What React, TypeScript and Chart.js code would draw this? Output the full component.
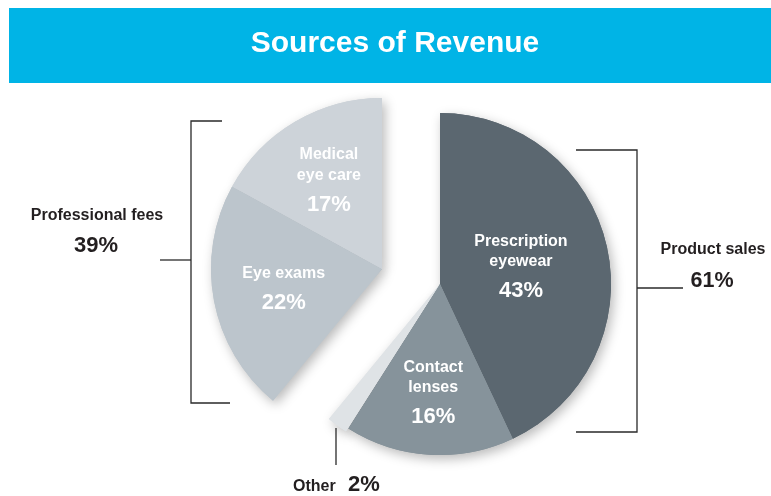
import { useEffect, useRef } from "react";
import { Chart, registerables } from "chart.js";

Chart.register(...registerables);

// ---------- data ----------
const TITLE = "Sources of Revenue";
const categories = ["Prescription eyewear", "Contact lenses", "Other", "Eye exams", "Medical eye care"];
const labelLines = [["Prescription", "eyewear"], ["Contact", "lenses"], [], ["Eye exams"], ["Medical", "eye care"]];
const shares = [43, 16, 2, 22, 17];
const groups = ["product", "product", "product", "professional", "professional"];
const groupNames: Record<string, string> = { product: "Product sales", professional: "Professional fees" };
const otherIndex = 2;

// ---------- style ----------
const W = 771;
const H = 496;
const FONT = "'Liberation Sans', Arial, sans-serif";
const DARK = "#231f20";
const COLORS = ["#5b6770", "#86939b", "#dfe3e6", "#bcc5cc", "#cdd3d9"];
const OFFSETS = [0, 0, 8, 0, 0];
const LABEL_R = [0.485, 0.63, 0, 0.585, 0.61];
const GROUP_SHIFT: Record<string, { dx: number; dy: number }> = {
  product: { dx: 0, dy: 0 },
  professional: { dx: -58, dy: -15 },
};
const BAR = { x: 9, y: 8, w: W - 9, h: 75, color: "#00b4e6" };

const groupTotal = (g: string) => shares.reduce((s, v, i) => (groups[i] === g ? s + v : s), 0);

function text(ctx: CanvasRenderingContext2D, t: string, x: number, y: number, size: number, color: string, align: CanvasTextAlign = "center") {
  ctx.save();
  ctx.font = `bold ${size}px ${FONT}`;
  ctx.fillStyle = color;
  ctx.textAlign = align;
  ctx.textBaseline = "alphabetic";
  ctx.fillText(t, x, y);
  ctx.restore();
}

function line(ctx: CanvasRenderingContext2D, pts: number[][]) {
  ctx.save();
  ctx.strokeStyle = "#2a2a2a";
  ctx.lineWidth = 1.3;
  ctx.beginPath();
  pts.forEach(([x, y], i) => (i === 0 ? ctx.moveTo(x, y) : ctx.lineTo(x, y)));
  ctx.stroke();
  ctx.restore();
}

const piePlugin = {
  id: "groupedPie",
  beforeDraw(chart: any) {
    const ctx = chart.ctx as CanvasRenderingContext2D;
    ctx.save();
    ctx.fillStyle = BAR.color;
    ctx.fillRect(BAR.x, BAR.y, BAR.w, BAR.h);
    ctx.restore();
    text(ctx, TITLE, 395, 52, 30, "#ffffff");
  },
  beforeDatasetDraw(chart: any, args: any) {
    const ctx = chart.ctx as CanvasRenderingContext2D;
    const arcs = args.meta.data;
    for (let pass = 0; pass < 2; pass++) {
      arcs.forEach((arc: any, i: number) => {
        const s = GROUP_SHIFT[groups[i]];
        ctx.save();
        ctx.translate(s.dx, s.dy);
        if (pass === 0) {
          ctx.shadowColor = "rgba(0,0,0,0.28)";
          ctx.shadowBlur = 12;
          ctx.shadowOffsetX = 3;
          ctx.shadowOffsetY = 4;
        }
        arc.draw(ctx);
        ctx.restore();
      });
    }
    return false;
  },
  afterDatasetsDraw(chart: any) {
    const ctx = chart.ctx as CanvasRenderingContext2D;
    const arcs = chart.getDatasetMeta(0).data;
    let cx = 0, cy = 0, R = 0;
    arcs.forEach((arc: any, i: number) => {
      const p = arc.getProps(["x", "y", "startAngle", "endAngle", "outerRadius"], true);
      cx = p.x; cy = p.y; R = p.outerRadius;
      const lines = labelLines[i];
      if (!lines.length) return;
      const s = GROUP_SHIFT[groups[i]];
      const mid = (p.startAngle + p.endAngle) / 2;
      const px = p.x + Math.cos(mid) * R * LABEL_R[i] + s.dx;
      const py = p.y + Math.sin(mid) * R * LABEL_R[i] + s.dy;
      const n = lines.length;
      const h = 20.5 * (n - 1) + 31 + 11.5;
      const b1 = py - h / 2 + 11.5;
      lines.forEach((l, k) => text(ctx, l, px, b1 + 20.5 * k, 16, "#ffffff"));
      text(ctx, `${shares[i]}%`, px, b1 + 20.5 * (n - 1) + 31, 22, "#ffffff");
    });

    // Product sales bracket (right)
    const rx = cx + R + 26;
    line(ctx, [[cx + 136, cy - 134], [rx, cy - 134], [rx, cy + 148], [cx + 136, cy + 148]]);
    line(ctx, [[rx, cy + 4], [rx + 46, cy + 4]]);
    text(ctx, groupNames.product, 713, 254, 16, DARK);
    text(ctx, `${groupTotal("product")}%`, 712, 287, 21.5, DARK);

    // Professional fees bracket (left)
    line(ctx, [[222, 121], [191, 121], [191, 403], [230, 403]]);
    line(ctx, [[160, 260], [191, 260]]);
    text(ctx, groupNames.professional, 97, 220, 16, DARK);
    text(ctx, `${groupTotal("professional")}%`, 96, 252, 22, DARK);

    // Other
    line(ctx, [[336, 428], [336, 465]]);
    text(ctx, categories[otherIndex], 293, 491, 16, DARK, "left");
    text(ctx, `${shares[otherIndex]}%`, 348, 491, 22, DARK, "left");
  },
};

export default function App() {
  const ref = useRef<HTMLCanvasElement | null>(null);
  useEffect(() => {
    if (!ref.current) return;
    const chart = new Chart(ref.current, {
      type: "pie",
      data: {
        labels: categories,
        datasets: [
          {
            data: shares,
            backgroundColor: COLORS,
            borderWidth: 0,
            offset: OFFSETS,
            radius: 171,
          } as any,
        ],
      },
      options: {
        responsive: false,
        animation: false,
        layout: { padding: { left: 109, right: 0, top: 72, bottom: 0 } },
        plugins: { legend: { display: false }, tooltip: { enabled: false }, title: { display: false } },
        events: [],
      },
      plugins: [piePlugin],
    });
    return () => chart.destroy();
  }, []);
  return (
    <div style={{ position: "absolute", left: 0, top: 0, width: W, height: H }}>
      <canvas ref={ref} width={W} height={H} style={{ display: "block" }} />
    </div>
  );
}
